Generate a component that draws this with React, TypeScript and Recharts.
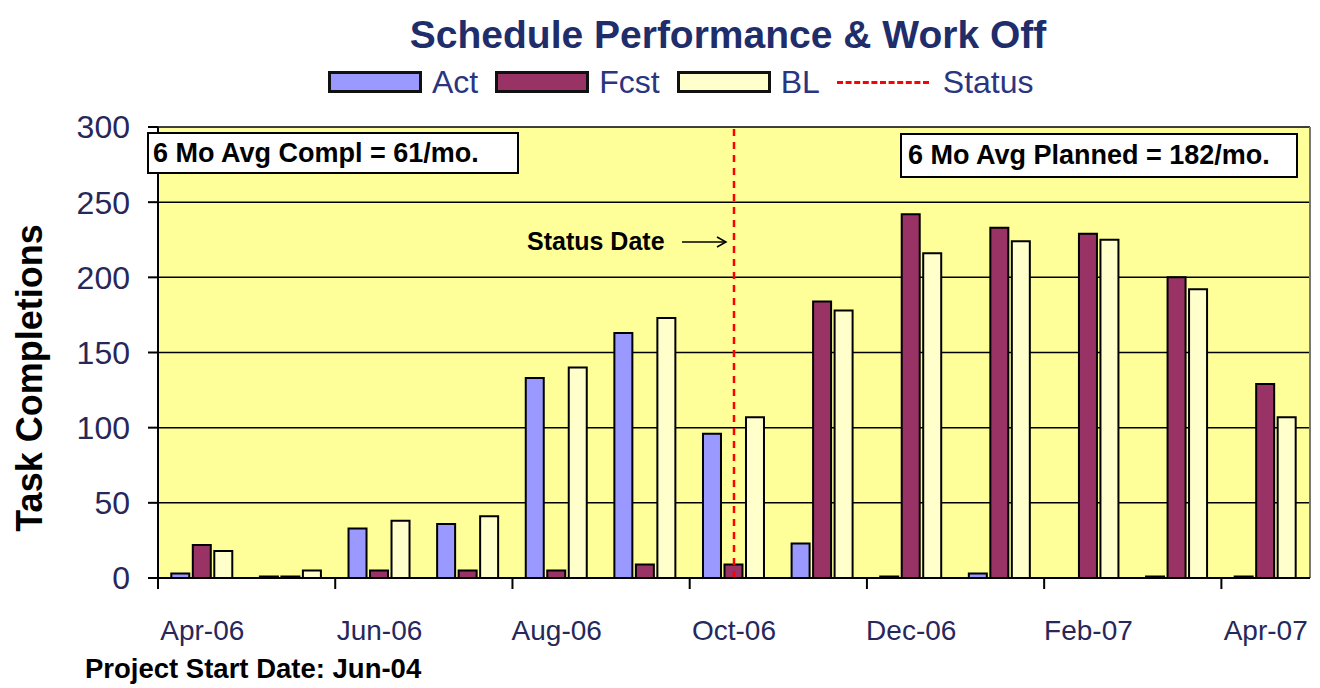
import React from 'react';
import {
  BarChart,
  Bar,
  XAxis,
  YAxis,
  CartesianGrid,
  ReferenceLine,
} from 'recharts';

const months = [
  'Apr-06', 'May-06', 'Jun-06', 'Jul-06', 'Aug-06', 'Sep-06', 'Oct-06',
  'Nov-06', 'Dec-06', 'Jan-07', 'Feb-07', 'Mar-07', 'Apr-07',
];
const actual = [3, 1, 33, 36, 133, 163, 96, 23, 1, 3, 0, 1, 1];
const forecast = [22, 1, 5, 5, 5, 9, 9, 184, 242, 233, 229, 200, 129];
const baseline = [18, 5, 38, 41, 140, 173, 107, 178, 216, 224, 225, 192, 107];
const yTicks = [0, 50, 100, 150, 200, 250, 300];
const statusMonth = 'Oct-06';

const data = months.map((m, i) => ({
  month: m,
  Act: actual[i],
  Fcst: forecast[i],
  BL: baseline[i],
}));

const FONT = "'Liberation Sans', Arial, sans-serif";
const NAVY = '#1f2d6b';
const TICK_TEXT = '#27275a';

const W = 1320;
const H = 688;
const PLOT_LEFT = 158;
const PLOT_RIGHT = 1310;
const BAND = (PLOT_RIGHT - PLOT_LEFT) / months.length;

// label in the middle of the month, tick mark on the month boundary
const MonthTick = (props: any) => {
  const { x, y, payload } = props;
  const half = payload && payload.offset ? payload.offset : BAND / 2;
  return (
    <g>
      <line x1={x - half} x2={x - half} y1={y} y2={y + 11} stroke="#000" strokeWidth={2} />
      <text x={x} y={y + 62} textAnchor="middle" fontSize={28} fill={TICK_TEXT} fontFamily={FONT}>
        {payload.value}
      </text>
    </g>
  );
};

const Swatch = ({ color }: { color: string }) => (
  <span
    style={{
      display: 'inline-block',
      width: 88,
      height: 16,
      background: color,
      border: '3px solid #111',
      marginRight: 10,
    }}
  />
);

const legendText: React.CSSProperties = {
  fontSize: 32,
  color: '#2a3580',
  marginRight: 17,
  lineHeight: '36px',
};

const boxStyle: React.CSSProperties = {
  position: 'absolute',
  background: '#fff',
  border: '2px solid #000',
  fontSize: 27,
  fontWeight: 'bold',
  color: '#000',
  boxSizing: 'border-box',
  paddingLeft: 4,
  display: 'flex',
  alignItems: 'center',
  whiteSpace: 'nowrap',
};

export default function App() {
  return (
    <div style={{ position: 'absolute', left: 0, top: 0, width: W, height: H, background: '#fff', fontFamily: FONT }}>
      <BarChart
        width={W}
        height={H}
        data={data}
        margin={{ top: 127, right: W - PLOT_RIGHT, bottom: 50, left: 0 }}
        barCategoryGap="15%"
        barGap={3.5}
      >
        <CartesianGrid vertical={false} stroke="#000" strokeWidth={1.5} fill="#FFFF99" fillOpacity={1} />
        <XAxis
          dataKey="month"
          interval={1}
          height={60}
          tickSize={0}
          tickMargin={0}
          tickLine={false}
          axisLine={{ stroke: '#000', strokeWidth: 2 }}
          tick={<MonthTick />}
        />
        <YAxis
          width={PLOT_LEFT}
          domain={[0, 300]}
          ticks={yTicks}
          interval={0}
          tickSize={10}
          tickMargin={18}
          axisLine={{ stroke: '#000', strokeWidth: 2 }}
          tickLine={{ stroke: '#000', strokeWidth: 2 }}
          tick={{ fontSize: 32, fill: TICK_TEXT, fontFamily: FONT }}
        />
        <Bar dataKey="Act" fill="#9999FF" stroke="#000" strokeWidth={2} isAnimationActive={false} />
        <Bar dataKey="Fcst" fill="#993366" stroke="#000" strokeWidth={2} isAnimationActive={false} />
        <Bar dataKey="BL" fill="#FFFFCC" stroke="#000" strokeWidth={2} isAnimationActive={false} />
        <ReferenceLine x="Apr-07" position="end" stroke="#777" strokeWidth={2} />
        <ReferenceLine x={statusMonth} stroke="#FF0000" strokeWidth={2.5} strokeDasharray="7 6" />
      </BarChart>

      {/* title */}
      <div
        style={{
          position: 'absolute',
          left: 0,
          width: 1456,
          top: 15,
          textAlign: 'center',
          fontSize: 39,
          lineHeight: '39px',
          fontWeight: 'bold',
          color: NAVY,
        }}
      >
        Schedule Performance &amp; Work Off
      </div>

      {/* legend */}
      <div style={{ position: 'absolute', left: 328, top: 64, display: 'flex', alignItems: 'center' }}>
        <Swatch color="#9999FF" />
        <span style={legendText}>Act</span>
        <Swatch color="#993366" />
        <span style={legendText}>Fcst</span>
        <Swatch color="#FFFFCC" />
        <span style={legendText}>BL</span>
        <span
          style={{
            display: 'inline-block',
            width: 92,
            borderTop: '3px dashed #FF0000',
            marginRight: 14,
          }}
        />
        <span style={legendText}>Status</span>
      </div>

      {/* y axis title */}
      <div
        style={{
          position: 'absolute',
          left: 30,
          top: 378,
          transform: 'translate(-50%, -50%) rotate(-90deg)',
          whiteSpace: 'nowrap',
          fontSize: 36,
          fontWeight: 'bold',
          color: '#000',
        }}
      >
        Task Completions
      </div>

      {/* annotations */}
      <div style={{ ...boxStyle, left: 147, top: 132, width: 372, height: 42 }}>6 Mo Avg Compl = 61/mo.</div>
      <div style={{ ...boxStyle, left: 900, top: 133, width: 398, height: 45, paddingLeft: 6 }}>
        6 Mo Avg Planned = 182/mo.
      </div>

      <div
        style={{
          position: 'absolute',
          left: 527,
          top: 227,
          fontSize: 25,
          fontWeight: 'bold',
          color: '#000',
          display: 'flex',
          alignItems: 'center',
          whiteSpace: 'nowrap',
        }}
      >
        Status Date
        <svg width={50} height={20} style={{ marginLeft: 16 }}>
          <line x1={1} y1={10} x2={44} y2={10} stroke="#000" strokeWidth={1.5} />
          <polyline points="36,5 45,10 36,15" fill="none" stroke="#000" strokeWidth={1.5} />
        </svg>
      </div>

      <div
        style={{
          position: 'absolute',
          left: 85,
          top: 655,
          fontSize: 27.5,
          lineHeight: '27px',
          fontWeight: 'bold',
          color: '#000',
          whiteSpace: 'nowrap',
        }}
      >
        Project Start Date: Jun-04
      </div>
    </div>
  );
}
